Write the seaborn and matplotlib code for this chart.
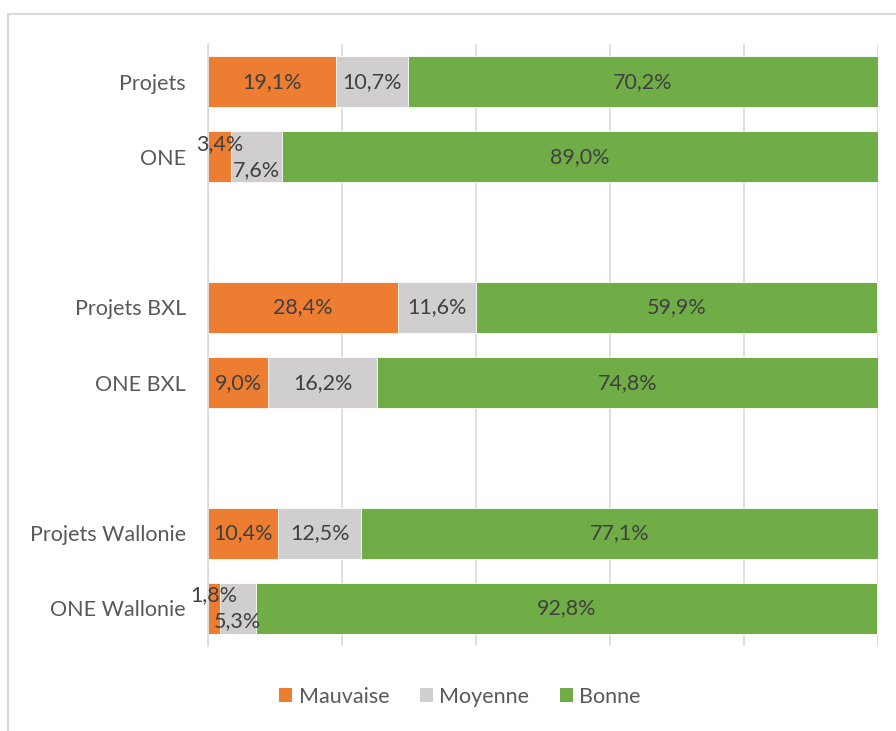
import pandas as pd
import numpy as np
import seaborn as sns
import matplotlib.pyplot as plt
from matplotlib.lines import Line2D
from matplotlib.patches import Patch

# Data
categories = ['Projets', 'ONE', 'Projets BXL', 'ONE BXL', 'Projets Wallonie', 'ONE Wallonie']
mauvaise = [19.1, 3.4, 28.4, 9.0, 10.4, 1.8]
moyenne = [10.7, 7.6, 11.6, 16.2, 12.5, 5.3]
bonne = [70.2, 89.0, 59.9, 74.8, 77.1, 92.8]
series = ['Mauvaise', 'Moyenne', 'Bonne']
colors = ['#ED7D31', '#D0CECE', '#70AD47']

# Row order with empty rows between groups
order = ['Projets', 'ONE', ' ', 'Projets BXL', 'ONE BXL', '  ', 'Projets Wallonie', 'ONE Wallonie']

df = pd.DataFrame({'cat': categories, 'Mauvaise': mauvaise, 'Moyenne': moyenne, 'Bonne': bonne})
df['c1'] = df['Mauvaise']
df['c2'] = df['Mauvaise'] + df['Moyenne']
df['c3'] = df['c2'] + df['Bonne']

sns.set_style('white')
plt.rcParams['font.family'] = ['Lato', 'DejaVu Sans']
fs = 15.5

fig = plt.figure(figsize=(8.96, 7.31), dpi=100)
ax = fig.add_axes([208 / 896, 1 - 646 / 731, 670 / 896, 602 / 731])

# Stack by overlaying cumulative totals
for col, color in zip(['c3', 'c2', 'c1'], colors[::-1]):
    sns.barplot(data=df, x=col, y='cat', order=order, color=color, width=0.68,
                orient='h', ax=ax, saturation=1, edgecolor='white', linewidth=0.6)

ax.set_xlim(0, 100)
ax.set_xticks([0, 20, 40, 60, 80, 100])
ax.xaxis.grid(True, color='#D9D9D9', linewidth=1.2)
ax.set_axisbelow(True)
ax.tick_params(axis='x', length=0, labelbottom=False)
ax.tick_params(axis='y', length=0, labelsize=fs, labelcolor='#595959', pad=16)
ax.set_xlabel('')
ax.set_ylabel('')
for s in ['top', 'right', 'bottom']:
    ax.spines[s].set_visible(False)
ax.spines['left'].set_color('#D9D9D9')
ax.spines['left'].set_linewidth(1.2)

# Data labels
pos = {c: order.index(c) for c in categories}
for i, row in df.iterrows():
    y = pos[row['cat']]
    starts = [0, row['c1'], row['c2']]
    vals = [row['Mauvaise'], row['Moyenne'], row['Bonne']]
    small = vals[0] < 5
    for k, (s0, v) in enumerate(zip(starts, vals)):
        txt = f'{v:.1f}%'.replace('.', ',')
        dy = 0
        if small and k == 0:
            dy = -0.17
        elif small and k == 1:
            dy = 0.17
        ax.text(s0 + v / 2, y + dy, txt, ha='center', va='center',
                fontsize=fs, color='#404040')

# Legend
handles = [Patch(facecolor=c, edgecolor='none') for c in colors]
fig.legend(handles, series, loc='center', bbox_to_anchor=(460 / 896, 1 - 697 / 731),
           ncol=3, frameon=False, fontsize=fs, handlelength=0.62, handleheight=0.62,
           handletextpad=0.3, columnspacing=1.4, labelcolor='#595959')

# Chart border
fig.add_artist(Line2D([8 / 896, 1.0], [1 - 14 / 731, 1 - 14 / 731], color='#D9D9D9', linewidth=1.5))
fig.add_artist(Line2D([8 / 896, 8 / 896], [0, 1 - 14 / 731], color='#D9D9D9', linewidth=1.5))

plt.savefig('out.png', dpi=100)
plt.close()
